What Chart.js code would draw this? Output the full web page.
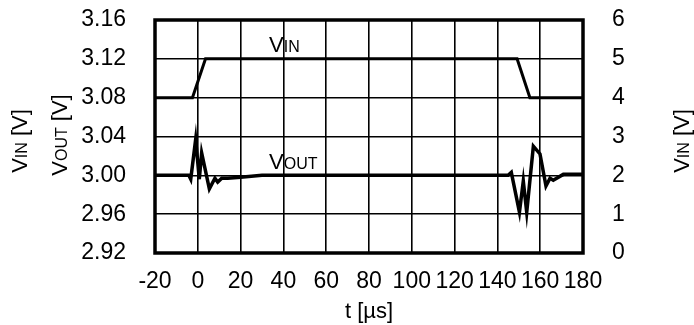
<!DOCTYPE html>
<html lang="en">
<head>
    <meta charset="UTF-8">
    <title>VIN / VOUT transient</title>
    <script src="https://cdn.jsdelivr.net/npm/chart.js@4.4.1/dist/chart.umd.min.js"></script>
    <style>
        body { margin: 0; background: #fff; }
        #box { width: 694px; height: 325px; }
    </style>
</head>
<body>
    <div id="box">
        <canvas id="chart" width="694" height="325"></canvas>
    </div>

    <script>
        // data
        const vinTime = [-20, -2.5, 3.6, 149.2, 155.2, 180];
        const vinVolt = [4, 4, 5, 5, 4, 4];

        const voutTime = [-20, -4.2, -3.3, -1.0, 0.7, 1.8, 5.4, 8.0, 9.3, 11.2, 14, 20, 30, 145,
                          146.5, 150.3, 152.1, 153.7, 156.8, 159.9, 162.7, 164.6, 166.1, 170.8, 180];
        const voutVolt = [3.000, 3.000, 2.996, 3.037, 2.996, 3.023, 2.986, 2.997, 2.993, 2.997, 2.997, 2.998, 3.000, 3.000,
                          3.003, 2.962, 2.994, 2.962, 3.030, 3.022, 2.989, 2.997, 2.995, 3.001, 3.001];

        const xTicks = [-20, 0, 20, 40, 60, 80, 100, 120, 140, 160, 180];
        const voutTicks = [2.92, 2.96, 3.00, 3.04, 3.08, 3.12, 3.16];
        const vinTicks = [0, 1, 2, 3, 4, 5, 6];

        const FONT = "'Liberation Sans', Arial, sans-serif";
        const SIZE = 23;

        function toPoints(xs, ys) {
            return xs.map((x, i) => ({ x: x, y: ys[i] }));
        }

        function setTicks(list) {
            return scale => { scale.ticks = list.map(v => ({ value: v })); };
        }

        // fixed axis width, and no label overhang pushing the plot around
        function fixWidth(w) {
            return scale => {
                scale.width = w;
                scale.paddingTop = 0;
                scale.paddingBottom = 0;
            };
        }

        // text with a smaller "subscript" part, e.g. V + IN
        function drawParts(ctx, parts, x, y, rotated) {
            ctx.save();
            ctx.translate(x, y);
            if (rotated) ctx.rotate(-Math.PI / 2);
            ctx.textBaseline = 'alphabetic';
            ctx.textAlign = 'left';
            ctx.fillStyle = '#000';
            let total = 0;
            parts.forEach(p => {
                ctx.font = p[1] + 'px ' + FONT;
                total += ctx.measureText(p[0]).width;
            });
            let pos = rotated ? -total / 2 : 0;
            const base = rotated ? 8 : 0;
            parts.forEach(p => {
                ctx.font = p[1] + 'px ' + FONT;
                ctx.fillText(p[0], pos, base);
                pos += ctx.measureText(p[0]).width;
            });
            ctx.restore();
        }

        const decorations = {
            id: 'decorations',
            afterDraw(chart) {
                const ctx = chart.ctx;
                const a = chart.chartArea;
                // frame round the plot
                ctx.save();
                ctx.strokeStyle = '#000';
                ctx.lineWidth = 3.5;
                ctx.strokeRect(a.left, a.top, a.right - a.left, a.bottom - a.top);
                ctx.restore();

                // axis titles
                drawParts(ctx, [['V', 22], ['IN', 16], [' [V]', 22]], 19, 141, true);
                drawParts(ctx, [['V', 22], ['OUT', 16], [' [V]', 22]], 59, 135, true);
                drawParts(ctx, [['V', 22], ['IN', 16], [' [V]', 22]], 681, 141, true);

                // trace names
                const sx = chart.scales.x, sl = chart.scales.y, sr = chart.scales.y1;
                drawParts(ctx, [['V', 22], ['IN', 16]], sx.getPixelForValue(33.3), sr.getPixelForValue(5.18), false);
                drawParts(ctx, [['V', 22], ['OUT', 16]], sx.getPixelForValue(33.3), sl.getPixelForValue(3.0065), false);
            }
        };

        new Chart(document.getElementById('chart'), {
            type: 'line',
            data: {
                datasets: [{
                    label: 'VIN',
                    data: toPoints(vinTime, vinVolt),
                    yAxisID: 'y1',
                    borderColor: '#000',
                    borderWidth: 3,
                    pointRadius: 0,
                    tension: 0
                }, {
                    label: 'VOUT',
                    data: toPoints(voutTime, voutVolt),
                    yAxisID: 'y',
                    borderColor: '#000',
                    borderWidth: 3.5,
                    pointRadius: 0,
                    tension: 0
                }]
            },
            options: {
                responsive: false,
                animation: false,
                layout: { padding: { top: 20, left: 0, right: 0, bottom: 0 } },
                plugins: {
                    legend: { display: false },
                    tooltip: { enabled: false }
                },
                scales: {
                    x: {
                        type: 'linear',
                        min: -20,
                        max: 180,
                        afterBuildTicks: setTicks(xTicks),
                        afterFit: s => { s.height = 72; },
                        ticks: {
                            color: '#000',
                            font: { family: FONT, size: SIZE },
                            padding: 15,
                            autoSkip: false,
                            maxRotation: 0
                        },
                        grid: { color: '#000', lineWidth: 1.6, drawTicks: false },
                        border: { display: false },
                        title: {
                            display: true,
                            text: 't [µs]',
                            color: '#000',
                            font: { family: FONT, size: 22 },
                            padding: { top: 0, bottom: 0 }
                        }
                    },
                    y: {
                        position: 'left',
                        min: 2.92,
                        max: 3.16,
                        afterBuildTicks: setTicks(voutTicks),
                        afterFit: fixWidth(155),
                        ticks: {
                            color: '#000',
                            font: { family: FONT, size: SIZE },
                            padding: 29,
                            callback: v => v.toFixed(2)
                        },
                        grid: { color: '#000', lineWidth: 1.6, drawTicks: false },
                        border: { display: false }
                    },
                    y1: {
                        position: 'right',
                        min: 0,
                        max: 6,
                        afterBuildTicks: setTicks(vinTicks),
                        afterFit: fixWidth(111),
                        ticks: {
                            color: '#000',
                            font: { family: FONT, size: SIZE },
                            padding: 29
                        },
                        grid: { drawOnChartArea: false, drawTicks: false },
                        border: { display: false }
                    }
                }
            },
            plugins: [decorations]
        });
    </script>
</body>
</html>
